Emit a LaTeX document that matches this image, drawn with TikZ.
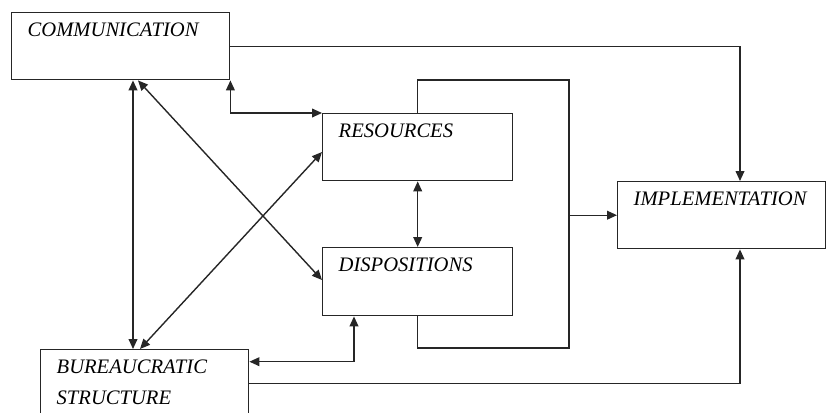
\documentclass[tikz,border=0pt]{standalone}
\usepackage{fontspec}
\setmainfont{Liberation Serif}
\usetikzlibrary{arrows.meta,calc,positioning}

\newcommand{\boxlabel}[3]{\parbox[t][#2][t]{#1}{\fontsize{10.3}{15.5}\selectfont\itshape
  \leftskip=8pt\rule{0pt}{12pt}#3}}

\begin{document}
\begin{tikzpicture}[x=0.5pt, y=-0.5pt,
        block/.style={rectangle, draw=black!85, line width=0.7pt, inner sep=0pt, anchor=north west},
        link/.style={draw=black!85, line width=0.7pt},
        every path/.style={>={Triangle[length=5pt,width=4.4pt]}}]
    \useasboundingbox (0,0) rectangle (826,413);
    \clip (0,0) rectangle (826,413);

    \node[block] (comm) at (11,12) {\boxlabel{109pt}{33.5pt}{COMMUNICATION}};
    \node[block] (res) at (322,113) {\boxlabel{95pt}{33.5pt}{RESOURCES}};
    \node[block] (disp) at (322,247) {\boxlabel{95pt}{34pt}{DISPOSITIONS}};
    \node[block] (impl) at (617,181) {\boxlabel{104pt}{33.5pt}{IMPLEMENTATION}};
    \node[block] (bureau) at (40,349) {\boxlabel{104pt}{33.5pt}{BUREAUCRATIC\\STRUCTURE}};

    % loop round resources and dispositions
    \coordinate (looptop) at (569,80);
    \coordinate (loopbot) at (569,348);
    \coordinate (merge) at (looptop |- impl.west);

    \draw[link, ->] (comm.east) -| ([xshift=61.5pt]impl.north west);
    \draw[link, <->] (comm.south east) |- (res.north west);
    \draw[link, <->] ([xshift=61pt]comm.south west) -- ([xshift=46.5pt]bureau.north west);
    \draw[link, <->] ([xshift=63.5pt]comm.south west) -- ([yshift=-16.5pt]disp.north west);
    \draw[link, <->] ([xshift=50pt]bureau.north west) -- ([yshift=-19.5pt]res.north west);
    \draw[link, <->] (res.south) -- (disp.north);
    \draw[link] (res.north) |- (looptop) -- (loopbot) -| (disp.south);
    \draw[link, ->] (merge) -- (impl.west);
    \draw[link, ->] (bureau.east) -| ([xshift=61.5pt]impl.south west);
    \draw[link, <->] ([yshift=10.75pt]bureau.east) -| ([xshift=16pt]disp.south west);
\end{tikzpicture}
\end{document}
